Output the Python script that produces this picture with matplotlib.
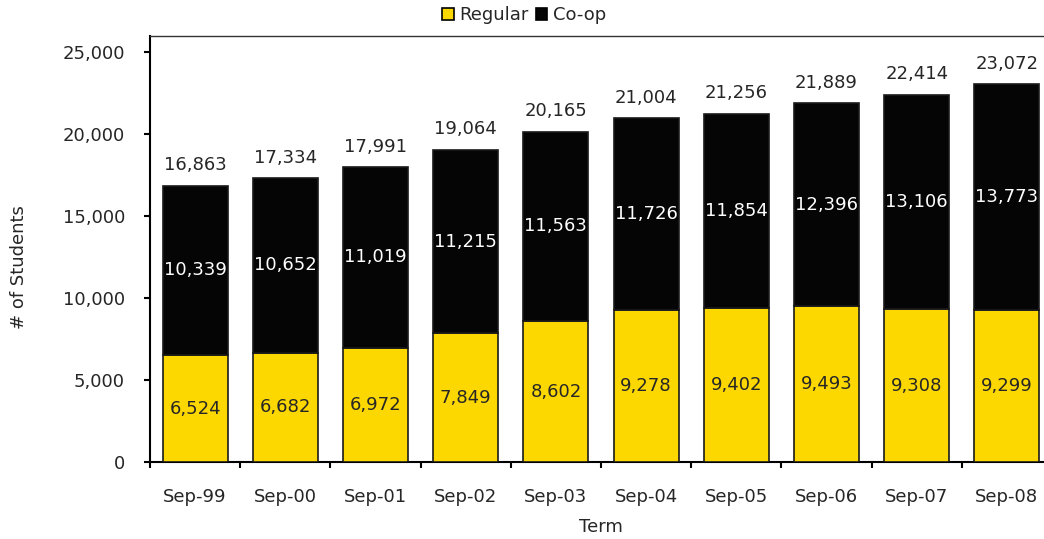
import matplotlib
matplotlib.use("Agg")
import matplotlib.pyplot as plt
from matplotlib.patches import Patch
import numpy as np

terms = ["Sep-99", "Sep-00", "Sep-01", "Sep-02", "Sep-03",
         "Sep-04", "Sep-05", "Sep-06", "Sep-07", "Sep-08"]
regular = [6524, 6682, 6972, 7849, 8602, 9278, 9402, 9493, 9308, 9299]
coop = [10339, 10652, 11019, 11215, 11563, 11726, 11854, 12396, 13106, 13773]
totals = [16863, 17334, 17991, 19064, 20165, 21004, 21256, 21889, 22414, 23072]

YELLOW = "#FCD700"
BLACK = "#050505"
TXT = "#262626"
FS = 13

plt.rcParams['font.family'] = ['DejaVu Sans']

fig = plt.figure(figsize=(10.44, 5.39), dpi=100)
ax = fig.add_axes([150/1044, 77/539, 902/1044, 426/539])

x = np.arange(len(terms))
w = 0.72
b1 = ax.bar(x, regular, width=w, color=YELLOW, edgecolor="#1a1a1a", linewidth=1.2, zorder=3)
b2 = ax.bar(x, coop, width=w, bottom=regular, color=BLACK, edgecolor="#1a1a1a", linewidth=1.2, zorder=3)

for i in range(len(terms)):
    ax.text(x[i], regular[i] / 2, f"{regular[i]:,}", ha="center", va="center",
            fontsize=FS, color=TXT, zorder=4)
    ax.text(x[i], regular[i] + coop[i] / 2, f"{coop[i]:,}", ha="center", va="center",
            fontsize=FS, color="white", zorder=4)
    ax.annotate(f"{totals[i]:,}", (x[i], regular[i] + coop[i]), xytext=(0, 11),
                textcoords="offset points", ha="center", va="baseline",
                fontsize=FS, color=TXT, zorder=4)

ax.set_xlim(-0.5, len(terms) - 0.5)
ax.set_ylim(0, 26000)
ax.set_yticks([0, 5000, 10000, 15000, 20000, 25000])
ax.set_yticklabels([f"{v:,}" for v in [0, 5000, 10000, 15000, 20000, 25000]])
ax.set_xticks(x)
ax.set_xticklabels(terms)
ax.set_xticks(np.arange(len(terms) + 1) - 0.5, minor=True)
ax.tick_params(axis="x", which="major", length=0, pad=19, labelsize=FS, labelcolor=TXT)
ax.tick_params(axis="x", which="minor", length=4, width=1.5, direction="out", color="black")
ax.tick_params(axis="y", length=4, width=1.5, direction="out", pad=14, labelsize=FS,
               labelcolor=TXT, color="black")

for s in ["left", "bottom", "top"]:
    ax.spines[s].set_linewidth(1.5)
    ax.spines[s].set_color("black")
ax.spines["top"].set_linewidth(1.0)
ax.spines["top"].set_color("#333333")
ax.spines["right"].set_visible(False)

ax.set_xlabel("Term", fontsize=FS, color=TXT, labelpad=8)
ax.set_ylabel("# of Students", fontsize=FS, color=TXT)
ax.yaxis.set_label_coords(-0.135, 0.458)

handles = [Patch(facecolor=YELLOW, edgecolor="black", linewidth=1.2, label="Regular"),
           Patch(facecolor=BLACK, edgecolor="black", linewidth=1.2, label="Co-op")]
fig.legend(handles=handles, loc="center", bbox_to_anchor=(0.502, 1 - 15/539),
           ncol=2, frameon=False, fontsize=FS, handlelength=0.65, handleheight=0.65,
           handletextpad=0.3, columnspacing=0.4, labelcolor=TXT, borderaxespad=0)

fig.savefig("out.png", dpi=100)
